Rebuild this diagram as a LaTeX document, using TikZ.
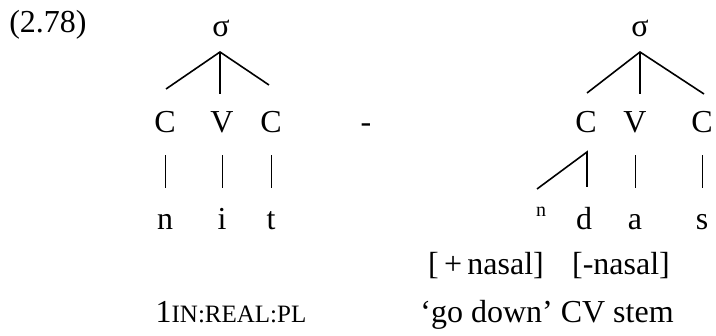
\documentclass[tikz,border=0pt]{standalone}
\usepackage{fontspec}
\setmainfont{Liberation Serif}
\begin{document}
\begin{tikzpicture}[x=1pt, y=-1pt,
  seg/.style={anchor=base, inner sep=0pt, text height=22pt, text depth=7pt, font=\fontsize{32}{38}\selectfont},
  branch/.style={line width=1.6pt},
  bar/.style={line width=1pt, shorten <=15pt, shorten >=20pt}]
  \useasboundingbox (0,0) rectangle (716,336);
  % Nodes
  \node[seg] (ex) at (48,33) {(2.78)};
  \node[seg] (sig1) at (221,37) {σ};
  \node[seg] (c1) at (165,133) {C};
  \node[seg] (v1) at (222,133) {V};
  \node[seg] (c2) at (271,133) {C};
  \node[seg] (n1) at (165,230) {n};
  \node[seg] (i1) at (222,230) {i};
  \node[seg] (t1) at (271,230) {t};
  \node[seg] (hy) at (366,133) {-};
  \node[seg] (sig2) at (640,37) {σ};
  \node[seg] (c3) at (586,133) {C};
  \node[seg] (v2) at (635,133) {V};
  \node[seg] (c4) at (702,133) {C};
  \node[seg, font=\fontsize{20}{24}\selectfont, text height=10pt, text depth=0pt] (nz) at (541,217) {n};
  \node[seg] (d2) at (584,230) {d};
  \node[seg] (a2) at (635,230) {a};
  \node[seg] (s2) at (702,230) {s};
  \node[seg] (plus) at (486,275) {[\,+\,nasal]};
  \node[seg] (minus) at (621,275) {[-nasal]};
  \node[seg] (gl1) at (231,323) {1{\fontsize{25}{28}\selectfont IN:REAL:PL}};
  \node[seg] (gl2) at (547,323) {‘go down’ CV stem};

  \coordinate (top1) at (220,52);
  \coordinate (top2) at (640,52);
  \coordinate (wl) at (537,189);
  \coordinate (wt) at (587,152);
  \coordinate (wb) at (587,187);

  % Edges
  \draw[branch] (166,89) -- (top1) -- (269,85);
  \draw[branch] (top1) -- (220,94);
  \draw[branch] (587,93) -- (top2) -- (704,94);
  \draw[branch] (top2) -- (640,94);
  \draw[bar] (c1.south) -- (n1.north);
  \draw[bar] (v1.south) -- (i1.north);
  \draw[bar] (c2.south) -- (t1.north);
  \draw[bar] (v2.south) -- (a2.north);
  \draw[bar] (c4.south) -- (s2.north);
  \draw[branch] (wl) -- (wt) -- (wb);
\end{tikzpicture}
\end{document}
